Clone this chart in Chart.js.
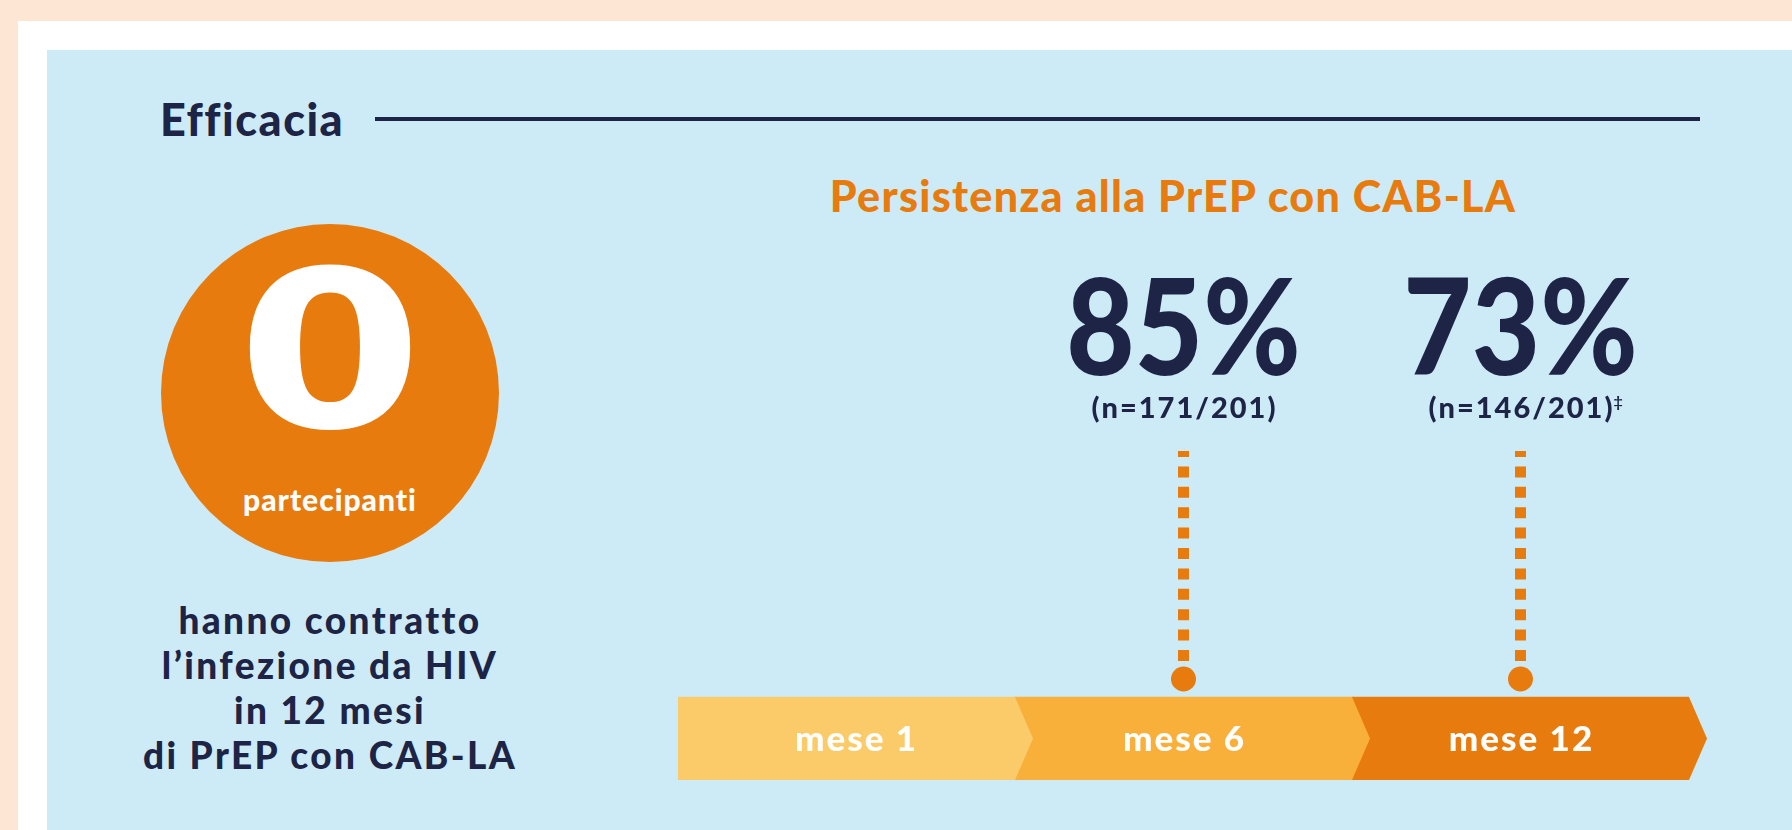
<!DOCTYPE html>
<html lang="it">
<head>
<meta charset="utf-8">
<title>Efficacia - Persistenza alla PrEP con CAB-LA</title>
<script src="https://cdn.jsdelivr.net/npm/chart.js@4.4.1/dist/chart.umd.min.js"></script>
<style>
  html, body { margin: 0; padding: 0; }
  body {
    width: 1792px; height: 830px; overflow: hidden; position: relative;
    background: #fde6d3; font-family: "Lato", "Noto Sans", sans-serif; color: #1d2445;
  }
  .frame { position: absolute; left: 18px; top: 21px; right: 0; bottom: 0; background: #ffffff; }
  .panel { position: absolute; left: 47px; top: 50px; right: 0; bottom: 0; background: #cdebf7; }
  .head {
    position: absolute; left: 160px; top: 92px; font-size: 45px; font-weight: 900;
    letter-spacing: 1.5px; line-height: 54px;
  }
  .rule { position: absolute; left: 375px; top: 117px; width: 1325px; height: 4px; background: #1d2445; }
  .title {
    position: absolute; left: 771px; width: 804px; top: 173px; text-align: center;
    color: #e87b0e; font-size: 43px; font-weight: 900; line-height: 46px; white-space: nowrap;
    letter-spacing: 1.3px;
  }
  .circle {
    position: absolute; left: 161px; top: 224px; width: 338px; height: 338px;
    border-radius: 50%; background: #e87b0e; color: #fff; text-align: center;
  }
  .zero {
    position: absolute; left: 0; right: 0; top: 28px; font-family: "DejaVu Sans", sans-serif;
    font-weight: 700; font-size: 219px; line-height: 200px; transform: scaleX(1.22);
  }
  .part {
    position: absolute; left: 0; right: 0; top: 258px; font-size: 30px; font-weight: 900;
    line-height: 34px; letter-spacing: 1px;
  }
  .caption {
    position: absolute; left: 80px; width: 500px; top: 597px; text-align: center;
    font-size: 37px; font-weight: 900; line-height: 45px; white-space: nowrap; letter-spacing: 2.4px;
  }
  #chart { position: absolute; left: 0; top: 0; }
</style>
</head>
<body>
<div class="frame"></div>
<div class="panel"></div>
<div class="head">Efficacia</div>
<div class="rule"></div>
<div class="title">Persistenza alla PrEP con CAB-LA</div>
<div class="circle">
  <div class="zero" id="zero"></div>
  <div class="part">partecipanti</div>
</div>
<div class="caption">hanno contratto<br>l’infezione da HIV<br>in 12 mesi<br>di PrEP con CAB-LA</div>
<canvas id="chart" width="1792" height="830"></canvas>
<script>
// data read from the infographic
const months = ["mese 1", "mese 6", "mese 12"];
const persistencePct = [null, 85, 73];
const persistentN = [null, 171, 146];
const enrolledN = 201;
const footnotes = ["", "", "\u2021"];
const hivInfections = 0;

document.getElementById("zero").textContent = hivInfections;

//layout (y scale runs in px-like units from the arrow bottom up)
const bandTop = 83;
const dotY = 101;
const stemLow = 119;
const stemHigh = 329;
const tipLen = 18;
const bandColors = ["#fbcb69", "#f9b03b", "#e87b0e"];
const orange = "#e87b0e";
const navy = "#1d2445";

//one dotted stem per month that has a persistence value
const stems = [];
months.forEach((m, i) => {
  if (persistencePct[i] == null) return;
  stems.push({
    type: "line",
    data: [{ x: m, y: stemLow }, { x: m, y: stemHigh }],
    borderColor: orange,
    borderWidth: 11,
    borderDash: [11, 9.4],
    borderCapStyle: "butt",
    pointRadius: 0,
    order: 2,
  });
});

//draws centred text with a letter spacing, ignoring the trailing gap
function spacedText(ctx, text, cx, cy, spacing) {
  ctx.letterSpacing = spacing + "px";
  const w = ctx.measureText(text).width - spacing;
  ctx.textAlign = "left";
  ctx.fillText(text, cx - w / 2, cy);
  ctx.letterSpacing = "0px";
  return w;
}

//#  arrow tips, month names and the percentages on top
const timelinePlugin = {
  id: "timeline",
  afterDatasetsDraw(chart) {
    const ctx = chart.ctx;
    const x = chart.scales.x;
    const y = chart.scales.y;
    const bars = chart.getDatasetMeta(0).data;

    //chevron tips, left to right so each one sits over the next band
    bars.forEach((bar, i) => {
      const right = bar.x + bar.width / 2;
      const top = Math.min(bar.y, bar.base);
      const bottom = Math.max(bar.y, bar.base);
      ctx.save();
      ctx.fillStyle = bandColors[i];
      ctx.beginPath();
      ctx.moveTo(right - 1, top);
      ctx.lineTo(right, top);
      ctx.lineTo(right + tipLen, (top + bottom) / 2);
      ctx.lineTo(right, bottom);
      ctx.lineTo(right - 1, bottom);
      ctx.closePath();
      ctx.fill();
      ctx.restore();
    });

    ctx.save();
    ctx.textBaseline = "middle";
    ctx.fillStyle = "#ffffff";
    ctx.font = "900 35px Lato";
    bars.forEach((bar, i) => {
      const mid = (Math.min(bar.y, bar.base) + Math.max(bar.y, bar.base)) / 2;
      const cx = bar.x + (i === 0 ? tipLen / 2 : 0);
      spacedText(ctx, months[i], cx, mid + 1, 2);
    });

    ctx.fillStyle = navy;
    months.forEach((m, i) => {
      if (persistencePct[i] == null) return;
      const px = x.getPixelForValue(i);
      //big percentage, narrowed a little to get close to the original typeface
      ctx.save();
      ctx.translate(px, y.getPixelForValue(405));
      ctx.scale(0.88, 1);
      ctx.textBaseline = "alphabetic";
      ctx.font = "900 134px Lato";
      spacedText(ctx, persistencePct[i] + "%", 0, 0, 0);
      ctx.restore();

      ctx.textBaseline = "middle";
      ctx.font = "900 29px Lato";
      const label = "(n=" + persistentN[i] + "/" + enrolledN + ")";
      const w = spacedText(ctx, label, px, y.getPixelForValue(371), 2);
      if (footnotes[i]) {
        ctx.font = "700 16px Lato";
        ctx.textAlign = "left";
        ctx.fillText(footnotes[i], px + w / 2 + 1, y.getPixelForValue(378));
      }
    });
    ctx.restore();
  },
};

const ctx = document.getElementById("chart").getContext("2d");
new Chart(ctx, {
  type: "bar",
  data: {
    labels: months,
    datasets: [
      {
        label: "mesi",
        data: months.map(() => [0, bandTop]),
        backgroundColor: bandColors,
        borderWidth: 0,
        barPercentage: 1,
        categoryPercentage: 1,
        order: 3,
      },
      ...stems,
      {
        type: "line",
        label: "rilevazione",
        data: months.map((m, i) => (persistencePct[i] == null ? null : dotY)),
        showLine: false,
        pointRadius: 12.5,
        pointBackgroundColor: orange,
        pointBorderWidth: 0,
        order: 1,
      },
    ],
  },
  options: {
    responsive: false,
    animation: false,
    devicePixelRatio: 1,
    layout: { padding: { left: 678, right: 103, top: 272, bottom: 50 } },
    scales: {
      x: { type: "category", offset: true, display: false },
      y: { type: "linear", min: 0, max: 508, display: false },
    },
    plugins: { legend: { display: false }, tooltip: { enabled: false } },
  },
  plugins: [timelinePlugin],
});
</script>
</body>
</html>
